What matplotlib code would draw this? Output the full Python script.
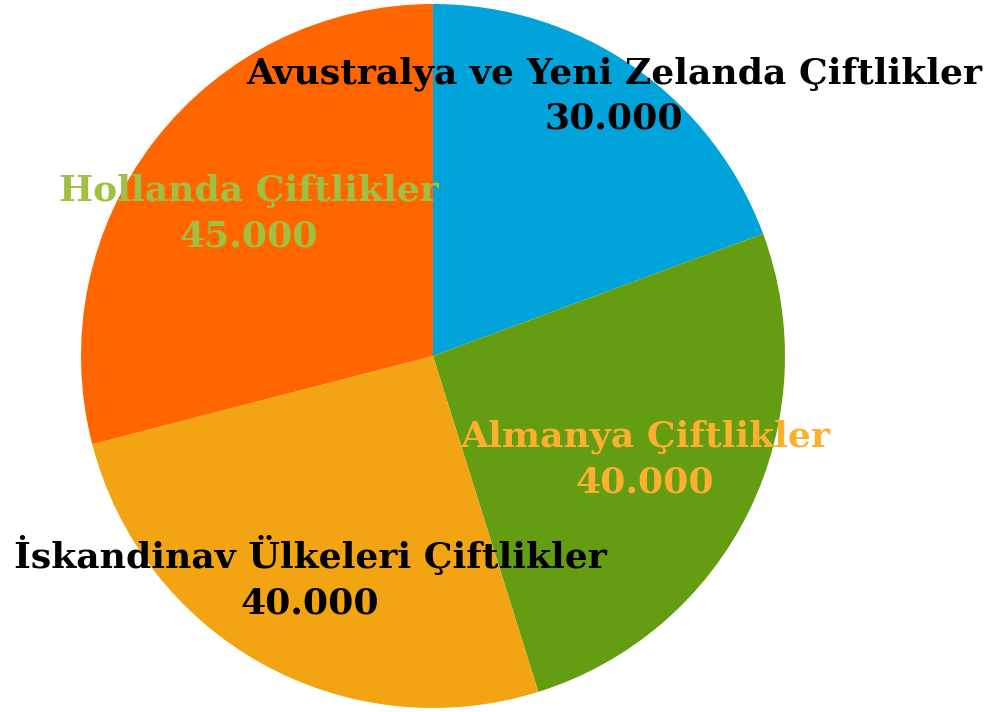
import matplotlib
matplotlib.use('Agg')
import matplotlib.pyplot as plt
import numpy as np

labels = ['Avustralya ve Yeni Zelanda Çiftlikler', 'Almanya Çiftlikler',
          'İskandinav Ülkeleri Çiftlikler', 'Hollanda Çiftlikler']
values = [30000, 40000, 40000, 45000]
colors = ['#00A3DA', '#649C12', '#F2A412', '#FF6600']
label_colors = ['#000000', '#FBB030', '#000000', '#A1BF43']
label_dist = [0.9, 0.67, 0.72, 0.66]

fig = plt.figure(figsize=(9.91, 7.12), dpi=100)
ax = fig.add_axes([81 / 991, 4 / 712, 704 / 991, 704 / 712])

wedges, _ = ax.pie(values, colors=colors, startangle=90, counterclock=False,
                   radius=1, wedgeprops=dict(linewidth=0))
ax.set_xlim(-1, 1)
ax.set_ylim(-1, 1)
ax.set_aspect('equal')
ax.axis('off')

for w, name, v, c, d in zip(wedges, labels, values, label_colors, label_dist):
    ang = np.deg2rad((w.theta1 + w.theta2) / 2)
    x, y = d * np.cos(ang), d * np.sin(ang)
    txt = name + '\n' + f'{v:,}'.replace(',', '.')
    ax.text(x, y, txt, ha='center', va='center', color=c, fontsize=26,
            fontweight='bold', family='DejaVu Serif', linespacing=1.42)

fig.savefig('out.png', dpi=100)
